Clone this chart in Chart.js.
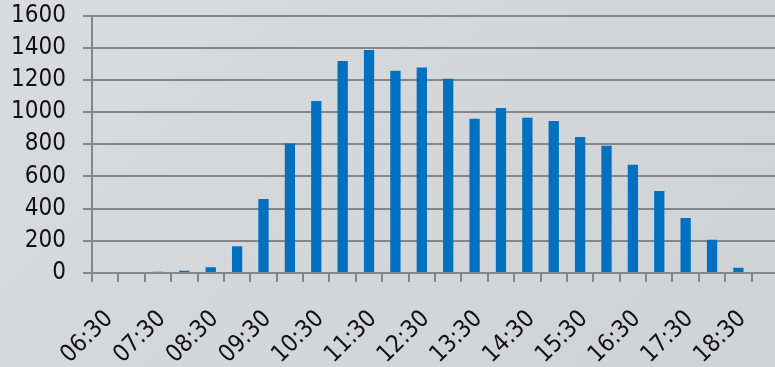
<!DOCTYPE html>
<html>
<head>
<meta charset="utf-8">
<script src="https://cdn.jsdelivr.net/npm/chart.js@4"></script>
<style>
  html, body { margin: 0; padding: 0; overflow: hidden; width: 775px; height: 367px; }
  body { background: linear-gradient(135deg, #d8dcdf 0%, #d3d7da 50%, #cfd3d6 100%); }
  #wrap { position: absolute; left: 0; top: 0; width: 778px; height: 367px; }
</style>
</head>
<body>
<div id="wrap"><canvas id="c" width="778" height="367"></canvas></div>
<script>
// Half-hourly readings from 06:30 to 18:30; the axis continues one slot further
const timeSlots = [
  '06:30','07:00','07:30','08:00','08:30','09:00','09:30','10:00','10:30',
  '11:00','11:30','12:00','12:30','13:00','13:30','14:00','14:30','15:00',
  '15:30','16:00','16:30','17:00','17:30','18:00','18:30','19:00'
];
const readings = [
  0, 0, 8, 14, 35, 166, 460, 805, 1068,
  1317, 1385, 1257, 1277, 1207, 959, 1025, 965, 944,
  845, 791, 673, 509, 342, 207, 33
];
const yTicks = [0, 200, 400, 600, 800, 1000, 1200, 1400, 1600];

const axisGray = '#868686';
const labelFont = { family: "'DejaVu Sans Condensed', 'DejaVu Sans', sans-serif", size: 24 };

new Chart(document.getElementById('c'), {
  type: 'bar',
  data: {
    labels: timeSlots,
    datasets: [{
      data: readings,
      backgroundColor: '#0070c0',
      borderWidth: 0,
      categoryPercentage: 1,
      barPercentage: 0.39
    }]
  },
  options: {
    responsive: false,
    animation: false,
    layout: { padding: { top: 15.5, right: 0, left: 0, bottom: 0 } },
    plugins: { legend: { display: false }, tooltip: { enabled: false } },
    scales: {
      x: {
        grid: {
          offset: true,
          drawOnChartArea: false,
          drawTicks: true,
          tickLength: 9,
          color: axisGray,
          lineWidth: 2
        },
        border: { color: axisGray, width: 2 },
        ticks: {
          autoSkip: false,
          maxRotation: 45,
          minRotation: 45,
          padding: 23,
          labelOffset: 4,
          color: '#111',
          font: labelFont,
          callback: (v, i) => (i % 2 === 0 ? timeSlots[i] : '')
        },
        afterFit: (s) => {
          s.height = 94;
          s.paddingLeft = 0;
          s.paddingRight = 0;
        }
      },
      y: {
        min: yTicks[0],
        max: yTicks[yTicks.length - 1],
        afterBuildTicks: (s) => { s.ticks = yTicks.map(v => ({ value: v })); },
        grid: {
          color: axisGray,
          lineWidth: 2,
          tickLength: 9
        },
        border: { color: axisGray, width: 2 },
        ticks: {
          autoSkip: false,
          padding: 17,
          color: '#111',
          font: labelFont,
          callback: (v) => String(v)
        },
        afterFit: (s) => {
          s.width = 92;
          s.paddingTop = 0;
          s.paddingBottom = 0;
        }
      }
    }
  }
});
</script>
</body>
</html>
